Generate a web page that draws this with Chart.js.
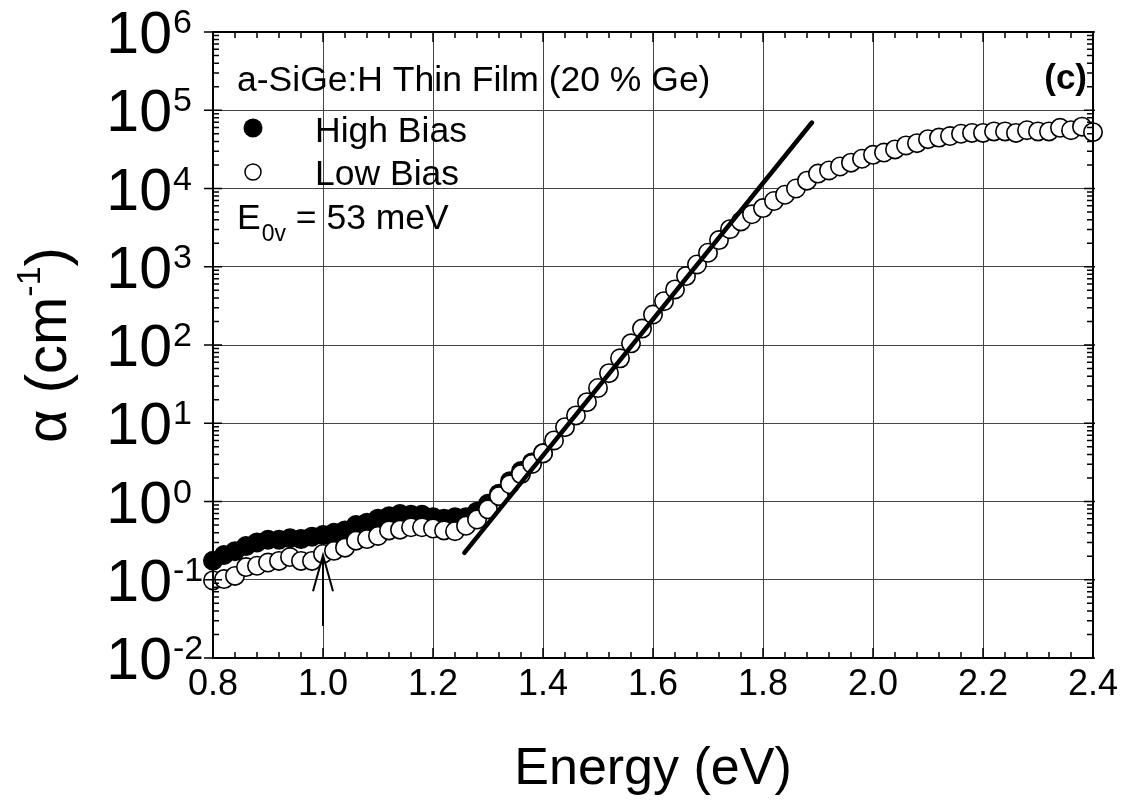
<!DOCTYPE html>
<html><head><meta charset="utf-8">
<script src="https://cdn.jsdelivr.net/npm/chart.js@4/dist/chart.umd.min.js"></script>
<style>html,body{margin:0;padding:0;background:#fff}#wrap{width:1130px;height:803px;position:relative}</style>
</head><body><div id="wrap"><canvas id="c" width="1130" height="803" style="width:1130px;height:803px"></canvas></div>
<script>
// ---- data ----
const energy = [0.80,0.82,0.84,0.86,0.88,0.90,0.92,0.94,0.96,0.98,1.00,1.02,1.04,1.06,1.08,1.10,1.12,1.14,1.16,1.18,1.20,1.22,1.24,1.26,1.28,1.30,1.32,1.34,1.36,1.38,1.40,1.42,1.44,1.46,1.48,1.50,1.52,1.54,1.56,1.58,1.60,1.62,1.64,1.66,1.68,1.70,1.72,1.74,1.76,1.78,1.80,1.82,1.84,1.86,1.88,1.90,1.92,1.94,1.96,1.98,2.00,2.02,2.04,2.06,2.08,2.10,2.12,2.14,2.16,2.18,2.20,2.22,2.24,2.26,2.28,2.30,2.32,2.34,2.36,2.38,2.40];
const lowBias = [0.098,0.102,0.112,0.145,0.151,0.166,0.174,0.195,0.174,0.174,0.214,0.234,0.257,0.316,0.331,0.363,0.427,0.437,0.468,0.468,0.452,0.427,0.417,0.490,0.589,0.794,1.17,1.66,2.24,3.02,4.12,6.03,8.91,12.6,18.6,28.2,43.7,67.6,105,162,245,363,513,759,1070,1510,2190,3020,3800,4680,5620,6920,8320,10000,12600,15500,17000,19100,21400,24000,26900,28800,31600,35500,38000,42700,44700,46800,50100,51300,51300,53700,53700,51300,55600,53700,53700,59600,55600,61700,52500];
const highBiasEnergy = [0.80,0.82,0.84,0.86,0.88,0.90,0.92,0.94,0.96,0.98,1.00,1.02,1.04,1.06,1.08,1.10,1.12,1.14,1.16,1.18,1.20,1.22,1.24,1.26,1.28,1.30,1.32,1.34,1.36,1.38,1.40];
const highBias = [0.175,0.207,0.232,0.269,0.300,0.324,0.324,0.339,0.331,0.355,0.372,0.398,0.427,0.501,0.537,0.603,0.646,0.692,0.676,0.676,0.631,0.603,0.631,0.631,0.741,0.933,1.26,1.82,2.45,3.16,4.17];
const fitEnergy = [1.257, 1.889];
const fitAlpha = [0.221, 69700];
const arrowEnergy = 1.0;
const arrowAlpha = [0.0257, 0.206];   // tail, tip
const xTicks = [0.8,1.0,1.2,1.4,1.6,1.8,2.0,2.2,2.4];
const xTickLabels = ['0.8','1.0','1.2','1.4','1.6','1.8','2.0','2.2','2.4'];
const yExponents = [-2,-1,0,1,2,3,4,5,6];
const yTickLabels = ['-2','-1','0','1','2','3','4','5','6'];

const FONT = '"Liberation Sans", Arial, Helvetica, sans-serif';

const pts = (xs, ys) => xs.map((x, i) => ({x, y: ys[i]}));

const decor = {
  id: 'decor',
  afterDraw(chart) {
    const ctx = chart.ctx, a = chart.chartArea, xs = chart.scales.x, ys = chart.scales.y;
    ctx.save();
    ctx.strokeStyle = '#000'; ctx.lineWidth = 2;
    ctx.strokeRect(a.left, a.top, a.right - a.left, a.bottom - a.top);
    ctx.lineWidth = 1.5;
    ctx.beginPath();
    for (let i = 0; i <= 40; i++) {
      const v = 0.8 + i * 0.04;
      const px = xs.getPixelForValue(v);
      const len = (i % 5 === 0) ? 10 : 6;
      ctx.moveTo(px, a.bottom); ctx.lineTo(px, a.bottom - len);
      ctx.moveTo(px, a.top); ctx.lineTo(px, a.top + len);
    }
    for (let e = -2; e <= 6; e++) {
      const py = ys.getPixelForValue(Math.pow(10, e));
      ctx.moveTo(a.left - 9, py); ctx.lineTo(a.left + 9, py);
      ctx.moveTo(a.right - 9, py); ctx.lineTo(a.right + 2, py);
      if (e < 6) {
        for (let m = 2; m <= 9; m++) {
          const q = ys.getPixelForValue(m * Math.pow(10, e));
          ctx.moveTo(a.left, q); ctx.lineTo(a.left + 6, q);
          ctx.moveTo(a.right, q); ctx.lineTo(a.right - 6, q);
        }
      }
    }
    ctx.stroke();

    // y tick labels with superscripts
    ctx.fillStyle = '#000';
    yExponents.forEach((e, i) => {
      const py = ys.getPixelForValue(Math.pow(10, e));
      ctx.font = '59px ' + FONT;
      ctx.textAlign = 'right'; ctx.textBaseline = 'alphabetic';
      ctx.fillText('10', 172, py + 21);
      ctx.font = '34px ' + FONT;
      ctx.textAlign = 'left';
      ctx.fillText(yTickLabels[i], 173, py + 1);
    });

    // y axis title
    ctx.save();
    ctx.translate(66, 345);
    ctx.rotate(-Math.PI / 2);
    ctx.font = '58px ' + FONT;
    const t1 = '\u03B1 (cm', t3 = ')';
    const w1 = ctx.measureText(t1).width, w3 = ctx.measureText(t3).width;
    ctx.font = '34px ' + FONT;
    const w2 = ctx.measureText('-1').width;
    let x0 = -(w1 + w2 + w3) / 2;
    ctx.textAlign = 'left'; ctx.textBaseline = 'alphabetic';
    ctx.font = '58px ' + FONT; ctx.fillText(t1, x0, 0);
    ctx.font = '34px ' + FONT; ctx.fillText('-1', x0 + w1, -26);
    ctx.font = '58px ' + FONT; ctx.fillText(t3, x0 + w1 + w2, 0);
    ctx.restore();

    // in-plot annotations
    ctx.textAlign = 'left'; ctx.textBaseline = 'alphabetic';
    ctx.font = '35.5px ' + FONT;
    ctx.fillText('a-SiGe:H Thin Film (20 % Ge)', 237, 91);
    ctx.font = 'bold 35px ' + FONT;
    ctx.textAlign = 'right';
    ctx.fillText('(c)', 1087, 89);
    ctx.textAlign = 'left';
    ctx.font = '35.5px ' + FONT;
    ctx.fillText('High Bias', 315, 142);
    ctx.fillText('Low Bias', 315, 185);
    ctx.beginPath(); ctx.arc(253, 128, 9.5, 0, Math.PI * 2); ctx.fillStyle = '#000'; ctx.fill();
    ctx.beginPath(); ctx.arc(253, 172, 8, 0, Math.PI * 2); ctx.fillStyle = '#fff'; ctx.fill();
    ctx.lineWidth = 1.5; ctx.strokeStyle = '#000'; ctx.stroke();
    ctx.fillStyle = '#000';
    ctx.font = '35.5px ' + FONT;
    ctx.fillText('E', 237, 229);
    const wE = ctx.measureText('E').width;
    ctx.font = '23px ' + FONT;
    ctx.fillText('0v', 237 + wE + 1, 241);
    const w0v = ctx.measureText('0v').width;
    ctx.font = '35.5px ' + FONT;
    ctx.fillText(' = 53 meV', 237 + wE + 1 + w0v, 229);

    // arrow
    const ax = xs.getPixelForValue(arrowEnergy);
    const yTail = ys.getPixelForValue(arrowAlpha[0]);
    const yTip = ys.getPixelForValue(arrowAlpha[1]);
    ctx.lineWidth = 2; ctx.strokeStyle = '#000';
    ctx.beginPath();
    ctx.moveTo(ax, yTail); ctx.lineTo(ax, yTip);
    ctx.moveTo(ax - 10, yTip + 36); ctx.lineTo(ax, yTip); ctx.lineTo(ax + 10, yTip + 36);
    ctx.stroke();
    ctx.restore();
  }
};

new Chart(document.getElementById('c'), {
  type: 'scatter',
  data: {
    datasets: [
      { label: 'Fit', data: pts(fitEnergy, fitAlpha), showLine: true, borderColor: '#000', borderWidth: 4.5,
        pointRadius: 0, order: 0, borderCapStyle: 'round', clip: false },
      { label: 'Low Bias', data: pts(energy, lowBias), showLine: false, pointRadius: 9.2, pointBorderWidth: 1.6,
        pointBackgroundColor: '#fff', pointBorderColor: '#000', order: 1, clip: false },
      { label: 'High Bias', data: pts(highBiasEnergy, highBias), showLine: false, pointRadius: 9.2, pointBorderWidth: 1.6,
        pointBackgroundColor: '#000', pointBorderColor: '#000', order: 2, clip: false }
    ]
  },
  options: {
    responsive: false,
    animation: false,
    devicePixelRatio: 1,
    layout: { padding: { left: 0, right: 37, top: 32, bottom: 0 } },
    plugins: { legend: { display: false }, tooltip: { enabled: false } },
    scales: {
      x: {
        type: 'linear', min: 0.8, max: 2.4,
        afterBuildTicks: s => { s.ticks = xTicks.map(v => ({ value: v })); },
        afterFit: s => { s.height = 145; },
        ticks: { callback: (v, i) => xTickLabels[i], color: '#000', font: { size: 36, family: FONT }, padding: 5, maxRotation: 0, autoSkip: false },
        grid: { color: '#444', lineWidth: 1, drawTicks: false },
        border: { display: false },
        title: { display: true, text: 'Energy (eV)', color: '#000', font: { size: 52, family: FONT }, padding: { top: 0, bottom: 2 } }
      },
      y: {
        type: 'logarithmic', min: 0.01, max: 1e6,
        afterBuildTicks: s => { s.ticks = yExponents.map(e => ({ value: Math.pow(10, e) })); },
        afterFit: s => { s.width = 213; },
        ticks: { display: false },
        grid: { color: '#444', lineWidth: 1, drawTicks: false },
        border: { display: false }
      }
    }
  },
  plugins: [decor]
});
</script>
</body></html>
